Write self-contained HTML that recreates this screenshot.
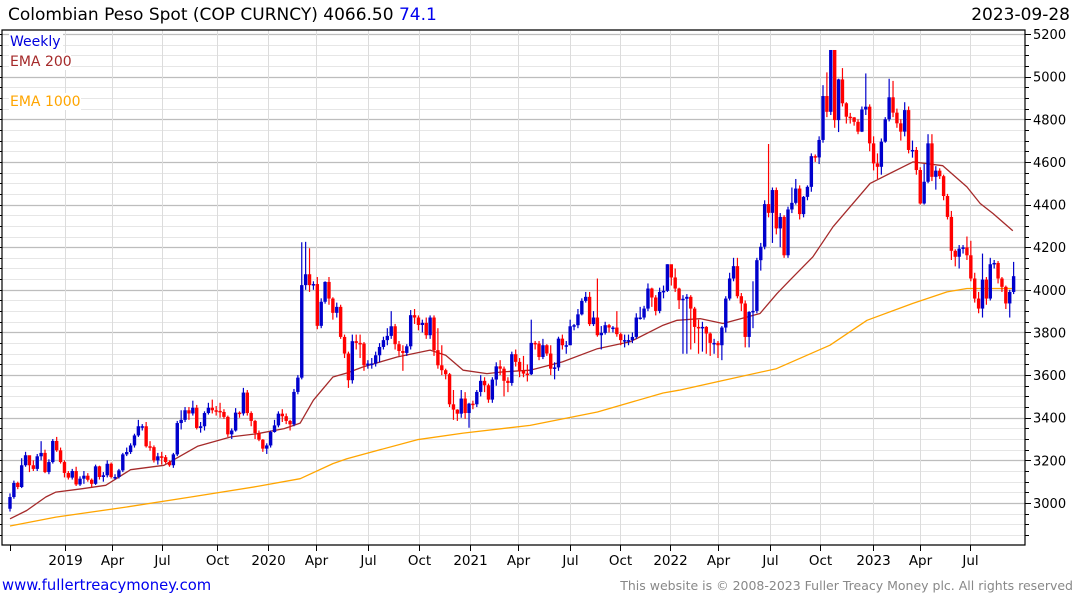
<!DOCTYPE html>
<html><head><meta charset="utf-8">
<style>
body{margin:0;background:#fff;width:1075px;height:600px;overflow:hidden;font-family:"DejaVu Sans","Liberation Sans",sans-serif;}
svg text{font-family:"DejaVu Sans","Liberation Sans",sans-serif;}
</style></head>
<body>
<svg id="chart" width="1075" height="600" viewBox="0 0 1075 600" xmlns="http://www.w3.org/2000/svg">
<g id="grid"></g>
<g id="lines"></g>
<g id="candles"></g>
<g id="axes"></g>
<text x="8" y="20" font-size="17" fill="#000">Colombian Peso Spot (COP CURNCY) 4066.50 <tspan fill="#0000ee">74.1</tspan></text>
<text x="1070" y="20" font-size="17" fill="#000" text-anchor="end">2023-09-28</text>
<rect x="9" y="33" width="54" height="17" fill="#fff"/>
<text x="10" y="46" font-size="14" fill="#0000dd">Weekly</text>
<rect x="9" y="53" width="62" height="17" fill="#fff"/>
<text x="10" y="66" font-size="14" fill="#a52a2a">EMA 200</text>
<rect x="9" y="93" width="72" height="17" fill="#fff"/>
<text x="10" y="106" font-size="14" fill="#ffa500">EMA 1000</text>
<text x="2" y="590" font-size="14.8" fill="#0000ee">www.fullertreacymoney.com</text>
<text x="1073" y="590" font-size="12.5" fill="#888" text-anchor="end">This website is © 2008-2023 Fuller Treacy Money plc. All rights reserved</text>
</svg>
<script>
const closes=[3028,3094,3075,3177,3224,3177,3160,3219,3235,3145,3192,3291,3247,3192,3141,3119,3150,3087,3114,3128,3109,3090,3172,3122,3130,3184,3122,3122,3153,3228,3239,3270,3317,3360,3360,3266,3262,3200,3219,3215,3192,3177,3228,3375,3390,3435,3420,3447,3352,3360,3422,3447,3435,3432,3427,3404,3322,3340,3424,3420,3518,3422,3385,3328,3297,3255,3270,3333,3364,3419,3407,3385,3369,3521,3588,4022,4073,4022,4027,3831,3944,4037,3959,3892,3920,3779,3701,3576,3759,3751,3748,3646,3654,3654,3693,3732,3764,3784,3829,3745,3713,3704,3735,3881,3870,3835,3845,3787,3870,3717,3646,3623,3604,3463,3438,3419,3490,3422,3466,3463,3521,3573,3552,3485,3579,3641,3630,3573,3563,3698,3662,3620,3607,3604,3751,3748,3685,3740,3701,3630,3636,3771,3740,3740,3829,3834,3885,3948,3967,3839,3870,3787,3798,3834,3823,3823,3792,3764,3764,3764,3779,3870,3870,3912,4006,3964,3901,3990,3995,4120,4058,4006,3951,3958,3967,3912,3826,3823,3826,3795,3751,3751,3740,3823,3959,4053,4111,3970,3936,3779,3896,3901,4139,4202,4402,4361,4468,4288,4342,4162,4377,4408,4475,4355,4436,4483,4627,4621,4703,4909,4835,5125,4796,4987,4875,4812,4809,4788,4742,4846,4859,4687,4593,4577,4695,4800,4903,4831,4781,4742,4843,4656,4656,4562,4405,4507,4687,4530,4559,4533,4440,4342,4183,4155,4193,4199,4162,4053,3959,3912,4048,3959,4120,4126,4053,4014,3936,3990,4064];
const highs=[3045,3105,3100,3210,3240,3215,3200,3230,3290,3250,3205,3300,3310,3260,3200,3150,3160,3170,3125,3150,3140,3115,3180,3175,3145,3200,3190,3135,3160,3235,3260,3280,3325,3390,3370,3380,3290,3270,3235,3240,3225,3200,3235,3385,3435,3450,3450,3480,3460,3380,3430,3470,3485,3455,3470,3440,3410,3350,3445,3430,3540,3530,3430,3390,3340,3300,3280,3340,3390,3430,3440,3420,3390,3535,3600,4223,4225,4195,4040,4060,3960,4040,4060,3965,3940,3930,3790,3710,3790,3790,3790,3755,3670,3680,3710,3750,3780,3820,3900,3840,3760,3740,3745,3905,3910,3880,3860,3870,3880,3880,3820,3740,3630,3610,3530,3440,3530,3520,3470,3480,3530,3600,3590,3560,3590,3660,3670,3640,3590,3710,3720,3680,3690,3650,3860,3760,3760,3770,3745,3740,3660,3780,3790,3760,3860,3840,3910,3960,3990,3990,3900,4053,3830,3850,3840,3830,3900,3800,3790,3790,3800,3890,3920,3925,4030,4010,3975,4010,4020,4120,4105,4100,4010,3975,3980,3975,3920,3860,3850,3830,3800,3770,3760,3830,3970,4080,4150,4150,3985,3950,3900,4040,4150,4220,4420,4684,4480,4480,4360,4350,4390,4480,4520,4490,4440,4490,4640,4635,4720,4960,5020,5125,5125,4990,5040,4880,4830,4810,4800,4860,5015,4870,4720,4640,4710,4810,4990,4980,4850,4800,4880,4860,4700,4670,4575,4590,4730,4730,4580,4570,4540,4450,4370,4190,4210,4210,4250,4230,4080,3990,4170,4060,4150,4140,4135,4060,4020,4000,4131];
const lows=[2960,3020,3065,3070,3170,3145,3150,3150,3200,3140,3135,3185,3240,3185,3120,3110,3110,3080,3080,3090,3100,3075,3085,3110,3100,3120,3115,3110,3115,3145,3220,3230,3260,3310,3340,3260,3245,3190,3180,3180,3185,3170,3165,3220,3345,3380,3390,3410,3345,3330,3340,3415,3420,3410,3400,3395,3310,3300,3335,3400,3410,3410,3360,3300,3290,3240,3230,3260,3330,3355,3380,3370,3340,3360,3510,3580,4000,3990,4000,3815,3820,3935,3930,3860,3870,3770,3680,3540,3560,3720,3680,3620,3630,3630,3640,3660,3720,3740,3770,3720,3690,3620,3690,3720,3840,3810,3800,3770,3770,3690,3630,3600,3580,3450,3390,3385,3400,3395,3353,3440,3450,3500,3520,3470,3470,3550,3600,3500,3520,3550,3640,3590,3590,3570,3600,3720,3670,3675,3690,3600,3580,3620,3720,3700,3740,3810,3820,3880,3940,3830,3830,3780,3720,3790,3800,3800,3780,3740,3730,3740,3750,3770,3860,3860,3900,3920,3880,3890,3960,3990,4020,3990,3910,3700,3700,3720,3750,3700,3710,3700,3690,3700,3680,3670,3800,3950,4040,3960,3900,3730,3730,3820,3890,4090,4190,4340,4220,4260,4200,4150,4150,4360,4400,4330,4340,4420,4460,4600,4590,4690,4810,4820,4760,4740,4860,4780,4780,4770,4730,4740,4820,4650,4560,4520,4540,4690,4790,4810,4760,4700,4720,4640,4620,4540,4400,4400,4500,4510,4470,4520,4420,4330,4140,4110,4100,4170,4140,4040,3940,3890,3870,3930,3950,4100,4030,3990,3910,3870,3980];
const firstOpen=[2973];
const ema200Idx=[0,4.3,9.2,11.8,18.6,24.6,31,39.6,48.2,56.8,63.6,70.5,74.6,78,83,86.6,90.7,99.5,108,112,116.5,122.6,126.7,133.7,142,151,159.4,167.9,171.5,177.4,183.3,192.8,197.2,200.5,206.4,211.6,221.1,232.1,239.8,246,249.4,252.7,257.8];
const ema200Val=[2926,2965,3028,3051,3067,3083,3156,3177,3266,3310,3325,3349,3375,3482,3591,3610,3638,3685,3717,3693,3623,3607,3615,3623,3662,3724,3756,3834,3857,3865,3842,3889,3983,4045,4155,4296,4499,4600,4582,4483,4405,4358,4277];
const ema1000Idx=[0,11.8,30,46.5,63.6,74.6,83,86.6,104.7,116.5,133.7,151,167.9,172,197,210.8,220.3,232,240.9,246,257.8];
const ema1000Val=[2892,2934,2981,3028,3078,3114,3185,3208,3297,3328,3364,3427,3516,3529,3630,3740,3857,3936,3990,4006,4006];
const yTicks=[3000,3200,3400,3600,3800,4000,4200,4400,4600,4800,5000,5200];
const xTickLabels=["","2019","Apr","Jul","Oct","2020","Apr","Jul","Oct","2021","Apr","Jul","Oct","2022","Apr","Jul","Oct","2023","Apr","Jul"];
const xTickWeeks=[0,14.1,26.2,39,53.1,66.3,78.7,92.0,105.1,118.2,130.6,144,156.8,169.7,182,195.4,208.2,221.9,233.9,246.7];

const NS="http://www.w3.org/2000/svg";
const L=2,R=1025,T=30,B=545;
const y=v=>34+(5200-v)/200*42.636;
const x=i=>10+i*3.89;
function mk(tag,attrs,parent){const e=document.createElementNS(NS,tag);for(const k in attrs)e.setAttribute(k,attrs[k]);parent.appendChild(e);return e;}
const grid=document.getElementById('grid'),axes=document.getElementById('axes'),lines=document.getElementById('lines'),cg=document.getElementById('candles');
for(let v=2850;v<=5200;v+=50){
  const yy=Math.round(y(v))+0.5; if(yy<T||yy>B)continue;
  const major=(v%200===0);
  const g=mk('line',{x1:L,x2:R,y1:yy,y2:yy,stroke:major?'#bdbdbd':'#e6e6e6','stroke-width':major?1.3:1},grid);
  
  
  const tk=mk('line',{x1:R,x2:R+(major?6:4),y1:yy,y2:yy,stroke:'#000'},axes);
  
  
  const tl=mk('line',{x1:L,x2:L-3,y1:yy,y2:yy,stroke:'#000'},axes);
  
  
}
yTicks.forEach(v=>{
  const t=mk('text',{x:R+8,y:y(v)+5,'font-size':13,fill:'#000'},axes);
  t.textContent=v;
  
  
});
xTickWeeks.forEach((w,k)=>{
  const xx=Math.round(x(w))+0.5;
  if(k>0){const g=mk('line',{x1:xx,x2:xx,y1:T,y2:B,stroke:'#dcdcdc'},grid);
  
  }
  const tk=mk('line',{x1:xx,x2:xx,y1:B,y2:B+6,stroke:'#000'},axes);
  
  
  if(xTickLabels[k]){const t=mk('text',{x:xx,y:565,'font-size':13.5,fill:'#000','text-anchor':'middle'},axes);
  t.textContent=xTickLabels[k];
  
  }
});
const fr=mk('path',{d:`M${L},${T}H${R}V${B}H${L}Z`,fill:'none',stroke:'#000','stroke-width':1.2},axes);


function drawLine(idx,val,color,name){
  const d=idx.map((i,k)=>(k?'L':'M')+x(i).toFixed(1)+','+y(val[k]).toFixed(1)).join('');
  const p=mk('path',{d:d,fill:'none',stroke:color,'stroke-width':1.3,'stroke-linejoin':'round'},lines);
  
  
}
drawLine(ema1000Idx,ema1000Val,'#ffa500','ema-1000-line');
drawLine(ema200Idx,ema200Val,'#a52a2a','ema-200-line');
closes.forEach((c,i)=>{
  const o=i===0?firstOpen[0]:closes[i-1];
  const up=c>=o, col=up?'#0000cc':'#ff0000';
  const cx=x(i);
  const w=mk('line',{x1:cx,x2:cx,y1:y(highs[i]),y2:y(lows[i]),stroke:col,'stroke-width':1.2},cg);
  
  
  const top=y(Math.max(o,c)),bot=y(Math.min(o,c));
  const r=mk('rect',{x:cx-1.7,y:top,width:3.4,height:Math.max(1.5,bot-top),fill:col},cg);
  
  
});
</script>
</body></html>
